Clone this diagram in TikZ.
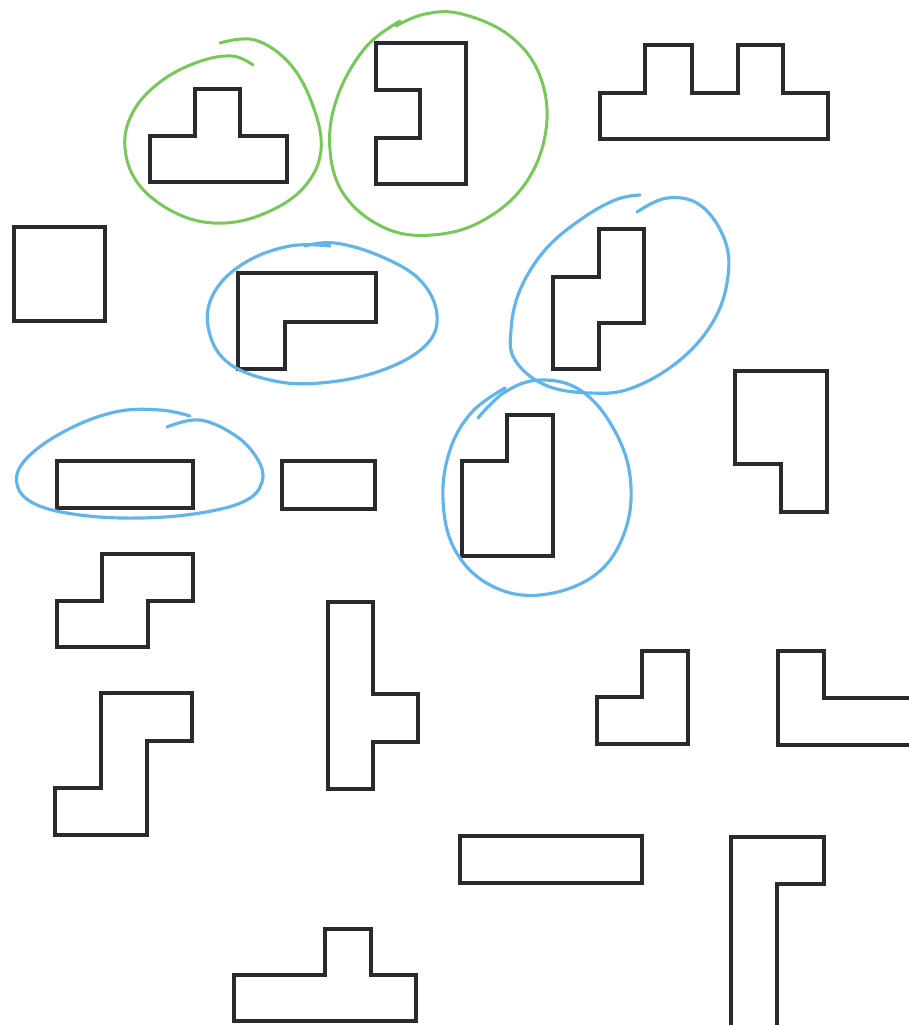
\documentclass[tikz,border=0pt]{standalone}
\usepackage{xcolor}
\usepackage{tikz}
\definecolor{inkgray}{RGB}{42,42,46}
\definecolor{pengreen}{RGB}{118,200,88}
\definecolor{penblue}{RGB}{98,180,236}
\tikzset{
  piece/.style={draw=inkgray,line width=2.6pt,line join=miter},
  greenloop/.style={draw=pengreen,line width=1.7pt,line cap=round,smooth,tension=0.65},
  blueloop/.style={draw=penblue,line width=1.8pt,line cap=round,smooth,tension=0.65}
}
\begin{document}
\begin{tikzpicture}[x=0.02cm,y=-0.02cm]
\useasboundingbox (0,0) rectangle (909,1025);
\clip (0,0) rectangle (909,1025);
\fill[white] (0,0) rectangle (909,1025);
% pieces, first row
\draw[piece] (150,182) -- (150,136) -- (195,136) -- (195,89) -- (240,89) -- (240,136) -- (287,136) -- (287,182) -- cycle;
\draw[piece] (376,43) -- (466,43) -- (466,184) -- (376,184) -- (376,138) -- (420,138) -- (420,90) -- (376,90) -- cycle;
\draw[piece] (600,139) -- (600,93) -- (645,93) -- (645,45) -- (692,45) -- (692,93) -- (738,93) -- (738,45) -- (783,45) -- (783,93) -- (828,93) -- (828,139) -- cycle;
% second row
\draw[piece] (14,227) rectangle (105,321);
\draw[piece] (238,273) -- (376,273) -- (376,322) -- (285,322) -- (285,369) -- (238,369) -- cycle;
\draw[piece] (599,229) -- (644,229) -- (644,323) -- (599,323) -- (599,369) -- (553,369) -- (553,277) -- (599,277) -- cycle;
% third row
\draw[piece] (57,461) rectangle (193,508);
\draw[piece] (282,461) rectangle (375,509);
\draw[piece] (507,415) -- (553,415) -- (553,556) -- (462,556) -- (462,461) -- (507,461) -- cycle;
\draw[piece] (735,371) -- (827,371) -- (827,512) -- (781,512) -- (781,464) -- (735,464) -- cycle;
% lower rows
\draw[piece] (102,554) -- (193,554) -- (193,601) -- (148,601) -- (148,647) -- (57,647) -- (57,601) -- (102,601) -- cycle;
\draw[piece] (328,602) -- (373,602) -- (373,694) -- (418,694) -- (418,742) -- (373,742) -- (373,789) -- (328,789) -- cycle;
\draw[piece] (642,651) -- (688,651) -- (688,744) -- (597,744) -- (597,697) -- (642,697) -- cycle;
\draw[piece] (778,651) -- (824,651) -- (824,698) -- (920,698) -- (920,745) -- (778,745) -- cycle;
\draw[piece] (101,693) -- (192,693) -- (192,741) -- (147,741) -- (147,835) -- (55,835) -- (55,788) -- (101,788) -- cycle;
\draw[piece] (460,836) rectangle (642,883);
\draw[piece] (731,1040) -- (731,837) -- (824,837) -- (824,884) -- (777,884) -- (777,1040);
\draw[piece] (234,1021) -- (234,975) -- (325,975) -- (325,929) -- (371,929) -- (371,975) -- (416,975) -- (416,1021) -- cycle;
% green loops
\draw[greenloop] plot coordinates {(253,65) (232,56) (198,62) (160,82) (133,112) (125,148) (140,186) (180,215) (225,223) (270,211) (305,186) (321,150) (313,106) (290,64) (255,40) (220,43)};
\draw[greenloop] plot coordinates {(400,21) (365,48) (337,98) (330,150) (345,196) (385,228) (432,235) (482,221) (525,184) (546,130) (540,76) (510,36) (462,14) (425,14) (396,26)};
% blue loops
\draw[blueloop] plot coordinates {(330,246) (290,246) (246,262) (215,291) (208,326) (226,361) (270,380) (320,383) (380,371) (425,346) (437,315) (420,280) (380,256) (335,243) (305,246)};
\draw[blueloop] plot coordinates {(167,427) (200,420) (236,436) (258,460) (262,482) (245,501) (200,513) (140,518) (80,515) (35,504) (17,484) (26,459) (65,431) (115,412) (160,410) (190,416)};
\draw[blueloop] plot coordinates {(637,212) (667,198) (700,205) (724,238) (728,276) (714,320) (680,360) (632,388) (590,393) (545,385) (515,360) (511,330) (520,290) (545,250) (580,220) (615,200) (640,195)};
\draw[blueloop] plot coordinates {(478,418) (505,392) (540,380) (580,390) (612,426) (630,476) (625,531) (595,575) (540,595) (490,585) (455,550) (443,500) (450,450) (472,412) (505,388)};
\end{tikzpicture}
\end{document}
